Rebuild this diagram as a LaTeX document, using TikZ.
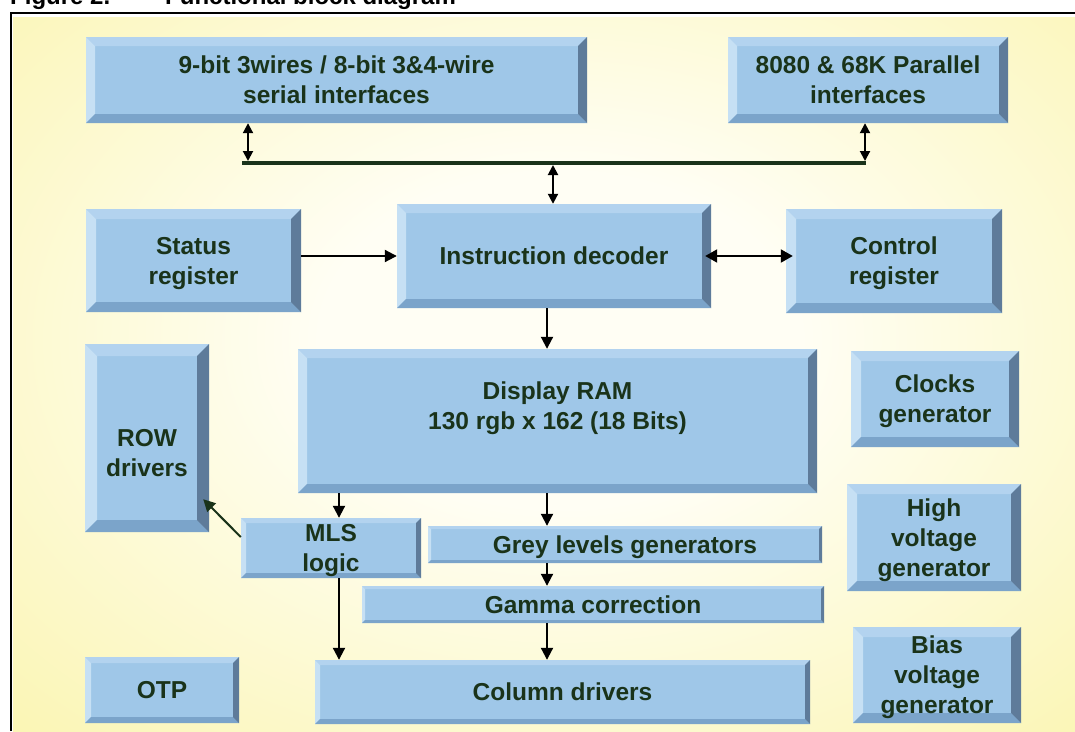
\documentclass[tikz,border=0pt]{standalone}
\usepackage{fontspec}
\setmainfont{Liberation Sans}
\usetikzlibrary{arrows.meta}

\definecolor{bgyel}{HTML}{F9F29A}
\definecolor{bgglow}{HTML}{FFFEF4}
\definecolor{face}{HTML}{9FC7E8}
\definecolor{bvtop}{HTML}{B3D3EF}
\definecolor{bvleft}{HTML}{C6E0F4}
\definecolor{bvbot}{HTML}{7BA4CA}
\definecolor{bvright}{HTML}{5E7B9A}
\definecolor{txt}{HTML}{1A331A}

\pgfdeclareradialshading{glow}{\pgfpoint{0bp}{0bp}}{color(0bp)=(bgglow); color(10bp)=(bgglow); color(42bp)=(bgyel); color(100bp)=(bgyel)}

\tikzset{
  blk/.style={fill=face, inner sep=0pt, align=center, text=txt, text depth=0pt,
    font=\bfseries\fontsize{24.5}{30}\selectfont,
    path picture={
      \coordinate (nw) at (path picture bounding box.north west);
      \coordinate (ne) at (path picture bounding box.north east);
      \coordinate (sw) at (path picture bounding box.south west);
      \coordinate (se) at (path picture bounding box.south east);
      \fill[bvtop] (nw) -- (ne) -- ([xshift=-#1pt,yshift=-#1pt]ne) -- ([xshift=#1pt,yshift=-#1pt]nw) -- cycle;
      \fill[bvleft] (nw) -- ([xshift=#1pt,yshift=-#1pt]nw) -- ([xshift=#1pt,yshift=#1pt]sw) -- (sw) -- cycle;
      \fill[bvbot] (sw) -- ([xshift=#1pt,yshift=#1pt]sw) -- ([xshift=-#1pt,yshift=#1pt]se) -- (se) -- cycle;
      \fill[bvright] (se) -- ([xshift=-#1pt,yshift=#1pt]se) -- ([xshift=-#1pt,yshift=-#1pt]ne) -- (ne) -- cycle;
    }},
  blk/.default=9,
  arr/.style={line width=2pt, -{Triangle[length=12pt,width=12pt]}},
  dbl/.style={line width=2pt, {Triangle[length=12pt,width=13pt]}-{Triangle[length=12pt,width=13pt]}},
  busarr/.style={line width=2pt, {Triangle[length=10pt,width=10pt]}-{Triangle[length=10pt,width=10pt]}},
  bus/.style={line width=4pt, draw=txt},
  ttlfont/.style={inner sep=0pt, font=\bfseries\fontsize{24}{28}\selectfont}
}

\begin{document}
\begin{tikzpicture}[x=1pt, y=-1pt]
    \useasboundingbox (0,0) rectangle (1075,731);
    % background and frame
    \fill[bgyel] (13,17) rectangle (1075,731);
    \begin{scope}
      \clip (13,17) rectangle (1075,731);
      \shade[shading=glow] (-40,-80) rectangle (1160,760);
    \end{scope}
    \draw[line width=2.5pt] (11,731) -- (11,13) -- (1075,13);
    \node[ttlfont, anchor=base west] (fig) at (10,4) {Figure 2.};
    \node[ttlfont, anchor=base west] (title) at (165,4) {Functional block diagram};

    % blocks
    \node[blk, minimum width=501, minimum height=86] (serial) at (336.5, 80) {9-bit 3wires / 8-bit 3\&4-wire\\serial interfaces};
    \node[blk, minimum width=280, minimum height=86] (par) at (868, 80) {8080 \& 68K Parallel\\interfaces};
    \node[blk=10, minimum width=215, minimum height=103] (stat) at (193.5, 260.5) {Status\\register};
    \node[blk, minimum width=314, minimum height=104] (dec) at (554, 256) {Instruction decoder};
    \node[blk=10, minimum width=216, minimum height=104] (ctrl) at (894, 261) {Control\\register};
    \node[blk, minimum width=519, minimum height=144] (ram) at (557.5, 421) {Display RAM\\130 rgb x 162 (18 Bits)\\\mbox{}};
    \node[blk=12, minimum width=124, minimum height=188] (row) at (147, 438) {\rule{0pt}{17pt}\\ROW\\drivers};
    \node[blk=10, minimum width=168, minimum height=96] (clk) at (935, 399) {Clocks\\generator};
    \node[blk=5, minimum width=180, minimum height=60] (mls) at (331, 548) {MLS\\logic};
    \node[blk=3, minimum width=394, minimum height=37] (grey) at (625, 544.5) {Grey levels generators};
    \node[blk=3, minimum width=462, minimum height=37] (gam) at (593, 604.5) {Gamma correction};
    \node[blk=10, minimum width=174, minimum height=107] (hv) at (934, 537.5) {High\\voltage\\generator};
    \node[blk=6, minimum width=154, minimum height=66] (otp) at (162, 690) {OTP};
    \node[blk=5, minimum width=495, minimum height=64] (coldrv) at (562.5, 692) {Column drivers};
    \node[blk=10, minimum width=168, minimum height=96] (bias) at (937, 675) {Bias\\voltage\\generator};

    % bus
    \coordinate (busL) at (242,163);
    \coordinate (busR) at (866,163);
    \coordinate (b1) at (248,163);
    \coordinate (b2) at (865,163);
    \coordinate (b3) at (553,163);
    \coordinate (col) at (547,0);
    \coordinate (mx) at (339,0);
    \draw[bus] (busL) -- (busR);

    % connections
    \draw[busarr, shorten >=2pt] (serial.south -| b1) -- (b1);
    \draw[busarr, shorten >=2pt] (par.south -| b2) -- (b2);
    \draw[busarr, shorten <=2pt] (b3) -- (dec.north -| b3);
    \draw[arr] (stat.east |- dec.west) -- (dec.west);
    \draw[dbl, shorten <=-6pt, shorten >=-7pt] (dec.east) -- (ctrl.west |- dec.east);
    \draw[arr] (dec.south -| col) -- (ram.north -| col);
    \draw[arr] (ram.south -| mx) -- (mls.north -| mx);
    \draw[arr] (ram.south -| col) -- (grey.north -| col);
    \draw[arr] (grey.south -| col) -- (gam.north -| col);
    \draw[arr] (gam.south -| col) -- (coldrv.north -| col);
    \draw[arr] (mls.south -| mx) -- (coldrv.north -| mx);
    \draw[arr, draw=txt, fill=txt] ([yshift=11pt]mls.west) -- ([xshift=-6pt,yshift=33pt]row.south east);
\end{tikzpicture}
\end{document}
